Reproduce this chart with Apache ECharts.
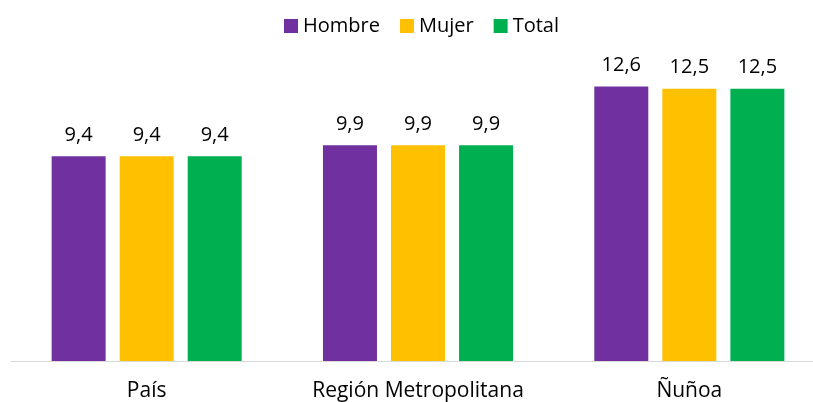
<!DOCTYPE html>
<html>
<head>
<meta charset="utf-8">
<script src="https://cdn.jsdelivr.net/npm/echarts@6/dist/echarts.min.js"></script>
<style>
  html, body { margin: 0; padding: 0; background: #fff; overflow: hidden; }
  #chart { width: 825px; height: 402px; }
</style>
</head>
<body>
<div id="chart"></div>
<script>
const categories = ['País', 'Región Metropolitana', 'Ñuñoa']
const hombre = [9.4, 9.9, 12.6]
const mujer = [9.4, 9.9, 12.5]
const total = [9.4, 9.9, 12.5]

const font = '"Open Sans", sans-serif'

const makeSeries = (name, data, color) => ({
  name,
  type: 'bar',
  data,
  barWidth: 54,
  barGap: '26%',
  itemStyle: { color },
  label: {
    show: true,
    position: 'top',
    distance: 11,
    color: '#000',
    fontSize: 20,
    fontFamily: font,
    formatter: p => p.value.toFixed(1).replace('.', ',')
  }
})

const chart = echarts.init(document.getElementById('chart'))
chart.setOption({
  animation: false,
  legend: {
    top: 11,
    left: 279,
    itemWidth: 14,
    itemHeight: 14,
    itemGap: 20,
    icon: 'rect',
    textStyle: { fontSize: 20, fontFamily: font, color: '#000' }
  },
  grid: { left: 11, right: 0, top: 56, bottom: 41 },
  xAxis: {
    type: 'category',
    data: categories,
    axisTick: { show: false },
    axisLine: { lineStyle: { color: '#d9d9d9', width: 1 } },
    axisLabel: { interval: 0, fontSize: 21, fontFamily: font, color: '#000', margin: 20 }
  },
  yAxis: {
    type: 'value',
    min: 0,
    max: 14,
    show: false
  },
  series: [
    makeSeries('Hombre', hombre, '#7030A0'),
    makeSeries('Mujer', mujer, '#FFC000'),
    makeSeries('Total', total, '#00B050')
  ]
})
</script>
</body>
</html>
